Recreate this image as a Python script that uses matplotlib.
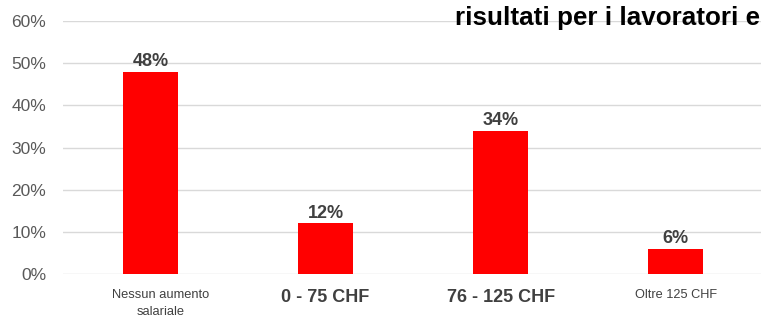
import matplotlib.pyplot as plt
import matplotlib.transforms as mtransforms

# dati
categorie = ['Nessun aumento\nsalariale', '0 - 75 CHF', '76 - 125 CHF', 'Oltre 125 CHF']
valori = [48, 12, 34, 6]
dim_etichette = [9.3, 13, 13, 9.2]
grassetto = ['normal', 'bold', 'bold', 'normal']
ticks_y = [0, 10, 20, 30, 40, 50, 60]

plt.rcParams['font.family'] = ['Liberation Sans', 'DejaVu Sans']

fig = plt.figure(figsize=(7.61, 3.29), dpi=100)
ax = fig.add_axes([0.0828, 0.167, 0.92, 0.769])

x = range(len(categorie))
ax.bar(x, valori, width=0.314, color='#ff0000', zorder=3)

for xi, v in zip(x, valori):
    ax.annotate(f'{v}%', (xi, v), textcoords='offset points', xytext=(0, 1),
                ha='center', va='bottom', fontsize=13, fontweight='bold', color='#404040')

ax.set_xlim(-0.5, 3.5)
ax.set_ylim(0, 60)
ax.set_yticks(ticks_y)
ax.set_yticklabels([f'{t}%' for t in ticks_y], fontsize=12.5, color='#595959')
ax.set_xticks(list(x))
ax.set_xticklabels(categorie, color='#404040', linespacing=1.55)
for lab, s, w in zip(ax.get_xticklabels(), dim_etichette, grassetto):
    lab.set_fontsize(s)
    lab.set_fontweight(w)
ax.tick_params(axis='both', length=0)
ax.tick_params(axis='x', pad=11)
ax.tick_params(axis='y', pad=12)

# piccolo spostamento della prima etichetta
off = mtransforms.ScaledTranslation(10 / 100, 0, fig.dpi_scale_trans)
prima = ax.get_xticklabels()[0]
prima.set_transform(prima.get_transform() + off)

ax.grid(axis='y', color='#d9d9d9', linewidth=1, zorder=0)
for s in ax.spines.values():
    s.set_visible(False)

fig.text(0.598, 0.925, 'risultati per i lavoratori ed impiegati', fontsize=18.7,
         fontweight='bold', color='black', ha='left', va='baseline')

fig.savefig('out.png', dpi=100)
